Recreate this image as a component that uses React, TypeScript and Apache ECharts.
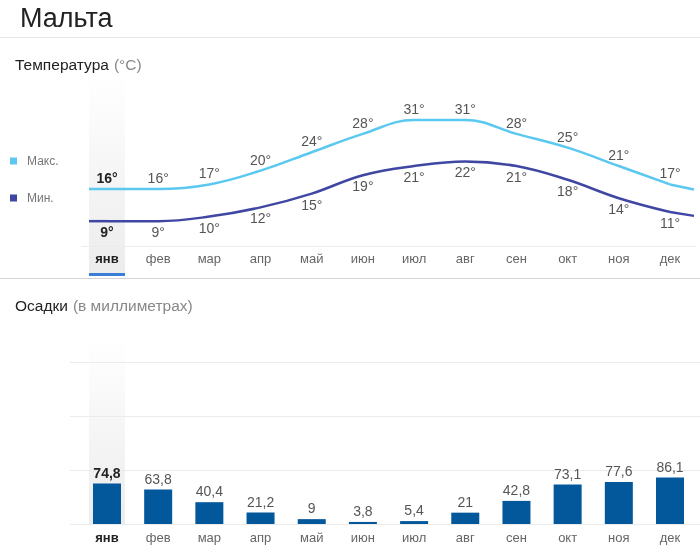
import React, { useEffect, useRef } from 'react';
import * as echarts from 'echarts';

const months = ['янв', 'фев', 'мар', 'апр', 'май', 'июн', 'июл', 'авг', 'сен', 'окт', 'ноя', 'дек'];
const maxTemp = [16, 16, 17, 20, 24, 28, 31, 31, 28, 25, 21, 17];
const minTemp = [9, 9, 10, 12, 15, 19, 21, 22, 21, 18, 14, 11];
const precip = [74.8, 63.8, 40.4, 21.2, 9, 3.8, 5.4, 21, 42.8, 73.1, 77.6, 86.1];
const precipTicks = [0, 100, 200, 300];

const FONT = '"Liberation Sans", Arial, Helvetica, sans-serif';
const MAX_COLOR = '#5bc8f0';
const MIN_COLOR = '#3f47a3';
const BAR_COLOR = '#03579b';

const catLabel = {
  color: '#666',
  fontSize: 13,
  fontFamily: FONT,
  interval: 0,
  formatter: (v: string, i: number) => (i === 0 ? `{b|${v}}` : v),
  rich: { b: { fontWeight: 'bold', color: '#222', fontSize: 13, fontFamily: FONT } },
};

const sub = (a: string, b: string) => `{a|${a}} {b|${b}}`;
const subStyle = {
  fontWeight: 'normal',
  rich: {
    a: { fontSize: 15.5, color: '#222', fontFamily: FONT, fontWeight: 'normal' },
    b: { fontSize: 15.5, color: '#888', fontFamily: FONT, fontWeight: 'normal' },
  },
};

export default function App() {
  const ref = useRef<HTMLDivElement>(null);
  useEffect(() => {
    if (!ref.current) return;
    const chart = echarts.init(ref.current, undefined, { renderer: 'svg' });
    const option: any = {
      animation: false,
      textStyle: { fontFamily: FONT },
      title: [
        { text: 'Мальта', left: 20, top: 4, padding: 0, textStyle: { fontSize: 27, fontWeight: 'normal', color: '#222', fontFamily: FONT } },
        { text: sub('Температура', '(°C)'), left: 15, top: 55, padding: 0, textStyle: subStyle },
        { text: sub('Осадки', '(в миллиметрах)'), left: 15, top: 296, padding: 0, textStyle: subStyle },
      ],
      legend: {
        data: ['Макс.', 'Мин.'], orient: 'vertical', left: 10, top: 155, padding: 0, icon: 'rect',
        itemWidth: 7, itemHeight: 7, itemGap: 25, selectedMode: false,
        textStyle: { color: '#777', fontSize: 12, fontFamily: FONT, padding: [0, 0, 0, 5] },
      },
      grid: [
        { left: 81.4, width: 614.2, top: 75, height: 171 },
        { left: 70, right: 0, top: 362, height: 162 },
        { left: 81.4, width: 614.2, top: 362, height: 162 },
      ],
      xAxis: [
        {
          type: 'category', gridIndex: 0, data: months, boundaryGap: true,
          axisLine: { lineStyle: { color: '#ececec' } }, axisTick: { show: false },
          axisLabel: { ...catLabel, margin: 6 },
        },
        { type: 'value', gridIndex: 1, min: 0, max: 1, show: false },
        {
          type: 'category', gridIndex: 2, data: months, boundaryGap: true,
          axisLine: { show: false }, axisTick: { show: false },
          axisLabel: { ...catLabel, margin: 7 },
        },
      ],
      yAxis: [
        { type: 'value', gridIndex: 0, min: 3.6, max: 40.8, show: false },
        {
          type: 'value', gridIndex: 1, min: precipTicks[0], max: precipTicks[precipTicks.length - 1], interval: 100,
          axisLabel: { show: false }, axisLine: { show: false }, axisTick: { show: false },
          splitLine: { lineStyle: { color: '#ebebeb' } },
        },
        { type: 'value', gridIndex: 2, min: precipTicks[0], max: precipTicks[precipTicks.length - 1], show: false },
      ],
      series: [
        {
          name: 'Макс.', type: 'line', xAxisIndex: 0, yAxisIndex: 0, data: maxTemp,
          color: MAX_COLOR, lineStyle: { width: 2.5, color: MAX_COLOR },
          smooth: 0.4, symbol: 'circle', symbolSize: 0,
          label: {
            show: true, position: 'top', distance: 4, color: '#555', fontSize: 14, fontFamily: FONT,
            formatter: (p: any) => (p.dataIndex === 0 ? `{b|${p.value}°}` : `${p.value}°`),
            rich: { b: { fontWeight: 'bold', color: '#222', fontSize: 14, fontFamily: FONT } },
          },
        },
        {
          name: 'Мин.', type: 'line', xAxisIndex: 0, yAxisIndex: 0, data: minTemp,
          color: MIN_COLOR, lineStyle: { width: 2.5, color: MIN_COLOR },
          smooth: 0.4, symbol: 'circle', symbolSize: 0,
          label: {
            show: true, position: 'bottom', distance: 4, color: '#555', fontSize: 14, fontFamily: FONT,
            formatter: (p: any) => (p.dataIndex === 0 ? `{b|${p.value}°}` : `${p.value}°`),
            rich: { b: { fontWeight: 'bold', color: '#222', fontSize: 14, fontFamily: FONT } },
          },
        },
        {
          name: 'Осадки', type: 'bar', xAxisIndex: 2, yAxisIndex: 2, data: precip, barWidth: 28,
          itemStyle: { color: BAR_COLOR },
          label: {
            show: true, position: 'top', distance: 4, color: '#555', fontSize: 14, fontFamily: FONT,
            formatter: (p: any) => {
              const s = String(p.value).replace('.', ',');
              return p.dataIndex === 0 ? `{b|${s}}` : s;
            },
            rich: { b: { fontWeight: 'bold', color: '#222', fontSize: 14, fontFamily: FONT } },
          },
        },
      ],
    };
    chart.setOption(option);

    // decorations computed from the chart's own scales
    const cxTop = chart.convertToPixel({ xAxisIndex: 0 }, months[0]) as number;
    const cxBot = chart.convertToPixel({ xAxisIndex: 2 }, months[0]) as number;
    const px = (i: number, v: number) => chart.convertToPixel({ xAxisIndex: 0, yAxisIndex: 0 } as any, [i, v]) as number[];
    const n = months.length;
    const ext = (data: number[], color: string) => {
      const p0 = px(0, data[0]);
      const pl = px(n - 1, data[n - 1]);
      const pp = px(n - 2, data[n - 2]);
      const dx = 694 - pl[0];
      const slope = ((pl[1] - pp[1]) / (pl[0] - pp[0])) * 0.6;
      return [
        { type: 'line', z: 2, shape: { x1: 89, y1: p0[1], x2: p0[0], y2: p0[1] }, style: { stroke: color, lineWidth: 2.5 } },
        { type: 'line', z: 2, shape: { x1: pl[0], y1: pl[1], x2: 694, y2: pl[1] + slope * dx }, style: { stroke: color, lineWidth: 2.5 } },
      ];
    };
    const grad = {
      type: 'linear', x: 0, y: 0, x2: 0, y2: 1,
      colorStops: [{ offset: 0, color: 'rgba(236,236,236,0)' }, { offset: 1, color: '#ececec' }],
    };
    chart.setOption({
      graphic: [
        { type: 'line', z: -1, shape: { x1: 0, y1: 37.5, x2: 700, y2: 37.5 }, style: { stroke: '#e6e6e6', lineWidth: 1 } },
        { type: 'line', z: -1, shape: { x1: 0, y1: 278.5, x2: 700, y2: 278.5 }, style: { stroke: '#d4d4d4', lineWidth: 1 } },
        { type: 'rect', z: -1, shape: { x: cxTop - 18, y: 75, width: 36, height: 198 }, style: { fill: grad } },
        { type: 'rect', z: -1, shape: { x: cxTop - 18, y: 273, width: 36, height: 3 }, style: { fill: '#3a7fd5' } },
        { type: 'rect', z: -1, shape: { x: cxBot - 18, y: 338, width: 36, height: 186 }, style: { fill: grad } },
        ...ext(maxTemp, MAX_COLOR),
        ...ext(minTemp, MIN_COLOR),
      ],
    });

    return () => chart.dispose();
  }, []);
  return <div ref={ref} style={{ position: 'fixed', left: 0, top: 0, width: 700, height: 546 }} />;
}
